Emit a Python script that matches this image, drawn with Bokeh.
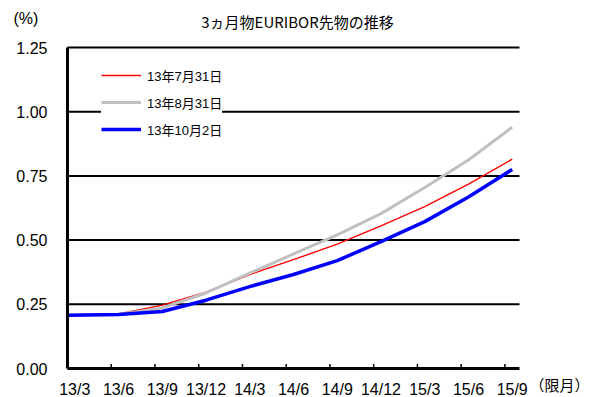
from bokeh.plotting import figure
from bokeh.models import FixedTicker, Legend, LegendItem, Label, Range1d, LinearAxis
from bokeh.embed import file_html
from bokeh.resources import INLINE

# ---- data ----
tick_labels = ["13/3", "13/6", "13/9", "13/12", "14/3", "14/6",
               "14/9", "14/12", "15/3", "15/6", "15/9"]
tick_months = [0, 3, 6, 9, 12, 15, 18, 21, 24, 27, 30]          # months since 2013/3
contract_months = [0.0, 3.5, 6.5, 9.5, 12.5, 15.5, 18.5, 21.5, 24.5, 27.5, 30.5]
series_names = ["13年7月31日", "13年8月31日", "13年10月2日"]
jul31 = [0.207, 0.212, 0.247, 0.297, 0.366, 0.424, 0.484, 0.555, 0.630, 0.718, 0.815]
aug31 = [0.207, 0.210, 0.236, 0.294, 0.371, 0.446, 0.520, 0.603, 0.705, 0.812, 0.940]
oct02 = [0.207, 0.210, 0.222, 0.266, 0.319, 0.366, 0.420, 0.494, 0.572, 0.668, 0.775]
y_ticks = [0.0, 0.25, 0.5, 0.75, 1.0, 1.25]
x_span = (0, 31)        # plotted months (13/3 .. 15/10)
y_span = (0.0, 1.25)

LATIN = "'Liberation Sans', 'Noto Sans CJK JP'"
CJK = "'Noto Sans CJK JP'"

W, H = 597, 397
PX_L, PX_R, PX_T, PX_B = 67, 519, 47, 368      # plot-area edges on the canvas
sx = (PX_R - PX_L) / (x_span[1] - x_span[0])
sy = (PX_B - PX_T) / (y_span[1] - y_span[0])
x_range = Range1d(x_span[0] - PX_L / sx, x_span[1] + (W - PX_R) / sx)
y_range = Range1d(y_span[0] - (H - PX_B) / sy, y_span[1] + PX_T / sy)

p = figure(width=W, height=H, output_backend="svg", toolbar_location=None,
           x_range=x_range, y_range=y_range,
           x_axis_location=None, y_axis_location=None,
           min_border=0, min_border_left=0, min_border_right=0,
           min_border_top=0, min_border_bottom=0)
p.outline_line_color = None
p.background_fill_color = "white"
p.border_fill_color = "white"
p.grid.visible = False

# gridlines
gl = y_ticks[1:]
p.segment(x0=[x_span[0]] * len(gl), y0=gl, x1=[x_span[1]] * len(gl), y1=gl,
          line_color="black", line_width=2)

# axes
label_pos = [m + 0.5 for m in tick_months]
xa = LinearAxis(fixed_location=0, bounds=x_span)
xa.ticker = FixedTicker(ticks=label_pos)
xa.major_label_overrides = {float(k): v for k, v in zip(label_pos, tick_labels)}
xa.major_tick_in = 0
xa.major_tick_out = 0
xa.minor_tick_in = 0
xa.minor_tick_out = 0
xa.axis_line_width = 3
xa.axis_line_color = "black"
xa.major_label_standoff = 12
xa.major_label_text_font = LATIN
xa.major_label_text_font_size = "16px"
xa.major_label_text_color = "black"
p.add_layout(xa, "below")

ya = LinearAxis(fixed_location=0, bounds=y_span)
ya.ticker = FixedTicker(ticks=y_ticks)
ya.major_label_overrides = {float(v): f"{v:.2f}" for v in y_ticks}
ya.major_tick_in = 0
ya.major_tick_out = 0
ya.minor_tick_in = 0
ya.minor_tick_out = 0
ya.axis_line_width = 3
ya.axis_line_color = "black"
ya.major_label_standoff = 20
ya.major_label_text_font = LATIN
ya.major_label_text_font_size = "16px"
ya.major_label_text_color = "black"
p.add_layout(ya, "left")

# inward tick marks at month boundaries
p.segment(x0=tick_months[1:], y0=[0] * (len(tick_months) - 1),
          x1=tick_months[1:], y1=[0.018] * (len(tick_months) - 1),
          line_color="black", line_width=1.5)

# series
r1 = p.line(contract_months, jul31, line_color="#FF0000", line_width=1.4, line_join="round")
r2 = p.line(contract_months, aug31, line_color="#C0C0C0", line_width=3, line_join="round")
r3 = p.line(contract_months, oct02, line_color="#0000FF", line_width=3.5, line_join="round")

legend = Legend(items=[LegendItem(label=series_names[0], renderers=[r1]),
                       LegendItem(label=series_names[1], renderers=[r2]),
                       LegendItem(label=series_names[2], renderers=[r3])],
                location=(101, 258))
legend.glyph_width = 40
legend.glyph_height = 20
legend.label_height = 20
legend.label_standoff = 6
legend.spacing = 7
legend.padding = 10
legend.margin = 0
legend.border_line_color = None
legend.background_fill_color = "white"
legend.background_fill_alpha = 1
legend.label_text_font = LATIN
legend.label_text_font_size = "13px"
legend.label_text_color = "black"
p.add_layout(legend, "center")

# title and unit labels
p.add_layout(Label(x=x_span[0] + (297 - PX_L) / sx, y=y_span[1] + (PX_T - 21) / sy,
                   text="3ヵ月物EURIBOR先物の推移", text_font=CJK, text_font_size="15px",
                   text_align="center", text_baseline="middle", text_color="black"))
p.add_layout(Label(x=x_span[0] + (13 - PX_L) / sx, y=y_span[1] + (PX_T - 18) / sy,
                   text="(%)", text_font=LATIN, text_font_size="16px",
                   text_align="left", text_baseline="middle", text_color="black"))
p.add_layout(Label(x=x_span[0] + (589 - PX_L) / sx, y=y_span[0] - (384 - PX_B) / sy,
                   text="（限月）", text_font=CJK, text_font_size="15px",
                   text_align="right", text_baseline="middle", text_color="black"))

open("out.html", "w").write(file_html(p, INLINE))
